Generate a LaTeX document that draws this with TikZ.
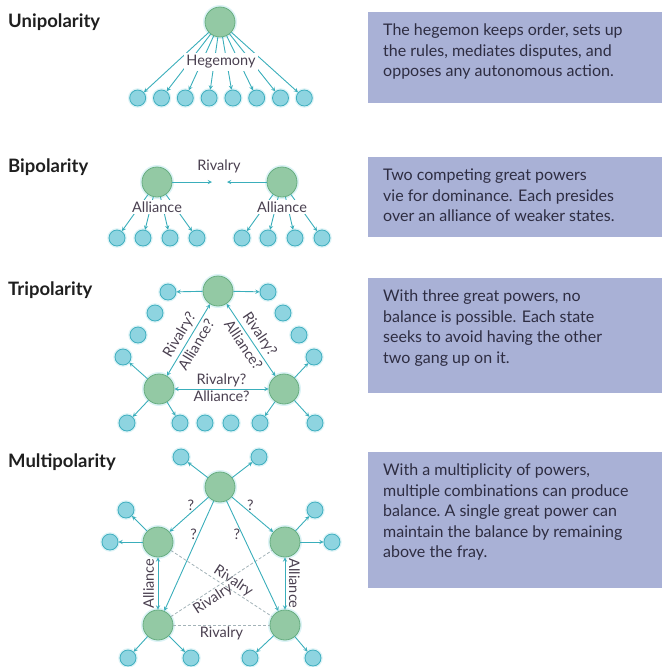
\documentclass[tikz,border=0pt]{standalone}
\usepackage{fontspec}
\setmainfont{Lato}
\usetikzlibrary{positioning,calc}
\definecolor{bigfill}{HTML}{93C9A4}
\definecolor{bigline}{HTML}{66AD80}
\definecolor{smallfill}{HTML}{8ED4E0}
\definecolor{smallline}{HTML}{3FAFC0}
\definecolor{linecolor}{HTML}{3AAEBB}
\definecolor{glowcolor}{HTML}{DDF3F6}
\definecolor{boxcolor}{HTML}{A9B1D6}
\definecolor{textcolor}{HTML}{2E2D42}
\definecolor{labelcolor}{HTML}{4A4050}
\definecolor{dashcolor}{HTML}{A3B3B8}
\newcommand{\boxtext}[2]{\parbox[c][#1][t]{294pt}{\raggedright\leftskip=15pt\strut #2}}

\begin{document}
\begin{tikzpicture}[x=1pt,y=-1pt,>=stealth,
    title/.style={anchor=west,inner sep=0pt,font=\bfseries\fontsize{18.5}{21}\selectfont,text=black!88},
    bigpower/.style={circle,draw=bigline,fill=bigfill,minimum size=30pt,inner sep=0pt,line width=0.8pt,
        preaction={draw=glowcolor,line width=4pt}},
    smallstate/.style={circle,draw=smallline,fill=smallfill,minimum size=16pt,inner sep=0pt,line width=0.8pt,
        preaction={draw=glowcolor,line width=3.5pt}},
    pil/.style={->,linecolor,line width=0.9pt},
    dubbelpil/.style={<->,linecolor,line width=0.9pt},
    streck/.style={dash pattern=on 3pt off 2pt,dashcolor,line width=0.8pt},
    etikett/.style={text=labelcolor,font=\fontsize{14.5}{16}\selectfont,inner sep=1.5pt},
    descbox/.style={anchor=north west,fill=boxcolor,inner xsep=0pt,inner ysep=9pt,text=textcolor,font=\fontsize{16}{20.5}\selectfont}]
    \useasboundingbox (0,0) rectangle (666,667);

    % Unipolarity
    \node (uni) [title] at (8,22) {Unipolarity};
    \node (hegemon) [bigpower] at (220,22) {};
    \foreach \i in {1,...,8}
        \node (u\i) [smallstate] at ({221+(\i-4.5)*23.8},98) {};
    \foreach \i in {1,...,8}
        \draw [pil] (hegemon) -- (u\i);
    \node (hegemony) [etikett,fill=white,inner sep=2pt] at (221,62) {Hegemony};

    % Bipolarity
    \node (bi) [title] at (8,167) {Bipolarity};
    \node (pA) [bigpower] at (157,182) {};
    \node (pB) [bigpower] at (282,182) {};
    \foreach \dx [count=\i] in {-40,-14,13,40} {
        \node (a\i) [smallstate] at ({157+\dx},238) {};
        \node (b\i) [smallstate] at ({282+\dx},238) {};
        \draw [pil] (pA) -- (a\i);
        \draw [pil] (pB) -- (b\i);
    }
    \coordinate (rivA) at (212,182);
    \coordinate (rivB) at (227,182);
    \draw [pil] (pA) -- (rivA);
    \draw [pil] (pB) -- (rivB);
    \node (rivalry) [etikett] at (219,166) {Rivalry};
    \node (allA) [etikett,fill=white] at (157,207) {Alliance};
    \node (allB) [etikett,fill=white] at (282,207) {Alliance};

    % Tripolarity
    \node (tri) [title] at (8,290) {Tripolarity};
    \node (t1) [bigpower] at (218,291) {};
    \node (t2) [bigpower] at (159,389) {};
    \node (t3) [bigpower] at (284,389) {};
    \foreach \n/\p in {s1/{168,292},s2/{268,292},s3/{155,313},s4/{138,335},s5/{123,357},
        s6/{283,313},s7/{299,335},s8/{314,357},s9/{127,423},s10/{180,423},
        s11/{205,423},s12/{231,423},s13/{260,423},s14/{315,423}}
        \node (\n) [smallstate] at (\p) {};
    \foreach \a/\b in {t1/s1,t1/s2,t2/s5,t2/s9,t2/s10,t3/s8,t3/s13,t3/s14}
        \draw [pil] (\a) -- (\b);
    \draw [dubbelpil] (t2) -- node[etikett,above=1.5pt,sloped] {Rivalry?} node[etikett,below=1.5pt,sloped] {Alliance?} (t1);
    \draw [dubbelpil] (t1) -- node[etikett,above=1.5pt,sloped] {Rivalry?} node[etikett,below=1.5pt,sloped] {Alliance?} (t3);
    \draw [dubbelpil] (t2) -- node[etikett,above] {Rivalry?} node[etikett,below] {Alliance?} (t3);

    % Multipolarity
    \node (multi) [title] at (8,462) {Multipolarity};
    \node (m1) [bigpower] at (220,487) {};
    \node (m2) [bigpower] at (158,542) {};
    \node (m3) [bigpower] at (285,542) {};
    \node (m4) [bigpower] at (158,625) {};
    \node (m5) [bigpower] at (285,625) {};
    \foreach \n/\p in {k1/{181,457},k2/{259,457},k3/{126,510},k4/{110,542},k5/{315,510},
        k6/{332,542},k7/{128,658},k8/{191,658},k9/{250,658},k10/{313,658}}
        \node (\n) [smallstate] at (\p) {};
    \draw [streck] (m2) -- node[etikett,pos=0.57,above,sloped] {Rivalry} (m5);
    \draw [streck] (m4) -- node[etikett,pos=0.37,below,sloped] {Rivalry} (m3);
    \draw [streck] (m4) -- node[etikett,below] {Rivalry} (m5);
    \foreach \a/\b in {m1/k1,m1/k2,m2/k3,m2/k4,m3/k5,m3/k6,m4/k7,m4/k8,m5/k9,m5/k10}
        \draw [pil] (\a) -- (\b);
    \draw [pil] (m1) -- node[etikett,pos=0.45,above] {?} (m2);
    \draw [pil] (m1) -- node[etikett,pos=0.45,above] {?} (m3);
    \draw [pil] (m1) -- node[etikett,pos=0.3,left] {?} (m4);
    \draw [pil] (m1) -- node[etikett,pos=0.3,left] {?} (m5);
    \draw [dubbelpil] (m4) -- node[etikett,above=2pt,sloped] {Alliance} (m2);
    \draw [dubbelpil] (m3) -- node[etikett,above=2pt,sloped] {Alliance} (m5);

    % Rutorna
    \node (box1) [descbox] at (368,12) {\boxtext{73pt}{The hegemon keeps order, sets up\\the rules, mediates disputes, and\\opposes any autonomous action.}};
    \node (box2) [descbox] at (368,157) {\boxtext{62pt}{Two competing great powers\\vie for dominance. Each presides\\over an alliance of weaker states.}};
    \node (box3) [descbox] at (368,278) {\boxtext{97pt}{With three great powers, no\\balance is possible. Each state\\seeks to avoid having the other\\two gang up on it.}};
    \node (box4) [descbox] at (368,452) {\boxtext{118pt}{With a multiplicity of powers,\\multiple combinations can produce\\balance.\ A single great power can\\maintain the balance by remaining\\above the fray.}};
\end{tikzpicture}
\end{document}
